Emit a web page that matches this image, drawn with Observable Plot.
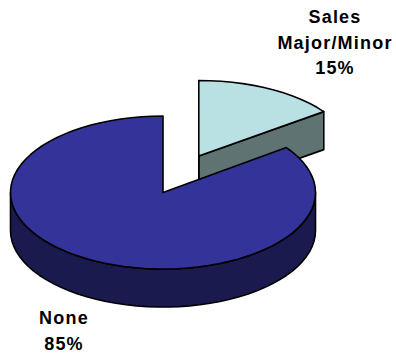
<!DOCTYPE html>
<html>
<head>
<meta charset="utf-8">
<script src="https://cdn.jsdelivr.net/npm/d3@7"></script>
<script src="https://cdn.jsdelivr.net/npm/@observablehq/plot@0.6"></script>
<style>
html, body { margin: 0; padding: 0; background: #fff; }
svg { display: block; }
svg text { letter-spacing: 1.2px; }
</style>
</head>
<body>
<div id="chart"></div>
<script>
// Shares of the pie, clockwise from twelve o'clock
const categories = ["Sales Major/Minor", "None"];
const shares = [15, 85];
const topColors = ["#b9e0e3", "#333399"];
const sideColors = ["#5f7373", "#1a1a4e"];
const labelLines = [["Sales", "Major/Minor", "15%"], ["None", "85%"]];

// Tilted disc geometry, in chart units; the small slice is pulled out
const radii = [[154.5, 75.5], [152.5, 76.5]];
const depth = 38;
const centers = [[198.3, 155.5], [162.5, 192]];
const labelAnchors = [[334.5, 16.5], [63.5, 317.5]];
const lineStep = 25.8;

const turn = (share) => (share / 100) * 2 * Math.PI;
const rim = (i, a, dy = 0) => ({
  x: centers[i][0] + radii[i][0] * Math.sin(a),
  y: centers[i][1] - radii[i][1] * Math.cos(a) + dy
});
const arc = (i, a0, a1, dy = 0) => {
  const n = Math.max(2, Math.round(Math.abs(a1 - a0) / 0.07));
  return d3.range(n + 1).map((k) => rim(i, a0 + ((a1 - a0) * k) / n, dy));
};
const closed = (points) => [...points, points[0]];

// Angular extent of each slice
const ends = d3.cumsum(shares).map(turn);
const starts = ends.map((e, i) => e - turn(shares[i]));

// Faces of a slice: the rim wall, the cut walls and the top
const rimWall = (i, a0, a1) => closed([...arc(i, a0, a1), ...arc(i, a1, a0, depth)]);
const cutWall = (i, a) => {
  const c = { x: centers[i][0], y: centers[i][1] };
  const p = rim(i, a);
  return closed([c, p, { x: p.x, y: p.y + depth }, { x: c.x, y: c.y + depth }]);
};
const topFace = (i) => {
  const c = { x: centers[i][0], y: centers[i][1] };
  return closed([c, ...arc(i, starts[i], ends[i])]);
};

const face = (points, fill) =>
  Plot.line(points, { x: "x", y: "y", fill, stroke: "#000", strokeWidth: 1.6, strokeLinejoin: "round" });

const textLines = labelLines.flatMap((lines, i) =>
  lines.map((line, j) => ({ line, x: labelAnchors[i][0], y: labelAnchors[i][1] + j * lineStep }))
);

document.getElementById("chart").append(
  Plot.plot({
    width: 396,
    height: 353,
    margin: 0,
    x: { domain: [0, 396], axis: null },
    y: { domain: [353, 0], axis: null },
    marks: [
      // Small slice sits behind the large one
      face(cutWall(0, ends[0]), sideColors[0]),
      face(cutWall(0, starts[0]), sideColors[0]),
      face(topFace(0), topColors[0]),
      // Large slice: the visible front wall, then the top
      face(rimWall(1, Math.PI / 2, 1.5 * Math.PI), sideColors[1]),
      face(topFace(1), topColors[1]),
      Plot.text(textLines, {
        x: "x",
        y: "y",
        text: "line",
        fontFamily: "Liberation Sans",
        fontWeight: "bold",
        fontSize: 18,
        fill: "#000"
      })
    ]
  })
);
</script>
</body>
</html>
